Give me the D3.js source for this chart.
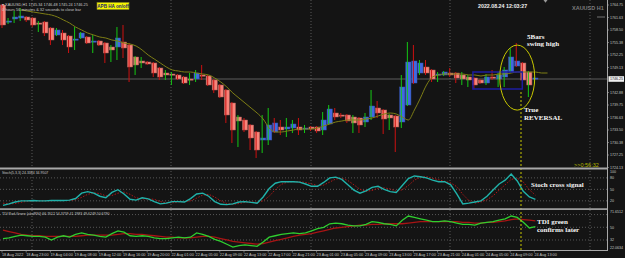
<!DOCTYPE html>
<html>
<head>
<meta charset="utf-8">
<script src="https://cdn.jsdelivr.net/npm/d3@7"></script>
<style>
  body { margin: 0; background: #141414; }
  svg text { font-family: "Liberation Sans", Arial, sans-serif; }
  svg text.note { font-family: "Liberation Serif", "Times New Roman", serif; }
</style>
</head>
<body>
<svg id="chart" width="625" height="258"></svg>
<script>
// XAUUSD H1 - heikin ashi + stoch + TDI

// heikin ashi open / close, bar high / low, real candle direction (wick colour)
const haOpen = [1764.75,1760.5,1761.25,1761.5,1761.75,1761.5,1760.25,1760.5,1759,1757.25,
  1757.75,1757,1756,1756.5,1756.75,1755.5,1755.75,1755.25,1754.25,1754.25,
  1755.5,1754.75,1751.75,1750.75,1750.5,1750.25,1749,1747.75,1747.5,1747.25,
  1746.75,1746.25,1746.25,1747.25,1747,1746,1744.75,1743.5,1740.25,1736.75,
  1736,1734.75,1733,1731,1731,1733,1734.25,1733.75,1734,1734.25,
  1733.75,1734.25,1734.25,1733.5,1735,1737.75,1737.25,1737.25,1736.75,1736.5,
  1735.5,1736.75,1739,1738.5,1737.25,1737,1735.5,1739.75,1745.25,1747.75,
  1749.25,1748.5,1747.25,1747.25,1747.75,1747.75,1747.25,1746.75,1746.5,1746,
  1745.25,1746.75,1746.25,1746.75,1748,1749.5,1750.25,1748,1746.25];
const haClose = [1759.75,1760.75,1761.75,1762,1761,1759.75,1760,1757.75,1756,1758.5,
  1756,1754.25,1756.25,1757.75,1755.25,1755.75,1754.75,1752.75,1753.5,1756.5,
  1754,1749.25,1749.75,1750.25,1750,1747.75,1746.75,1747.25,1747.25,1746.25,
  1745.25,1746,1747.75,1747,1744.75,1743.5,1741.75,1737.25,1733.5,1735.75,
  1733.5,1731.5,1728.5,1731.5,1734.75,1735.25,1733.5,1734.25,1735,1733.5,
  1734,1733.75,1733.25,1736,1738.75,1736.75,1737,1735.75,1735.25,1734.75,
  1736.75,1739.5,1737.75,1736.25,1736.5,1734.25,1744.25,1750.5,1750.75,1750.25,
  1747.75,1746.25,1747.5,1748,1747.25,1746.5,1746.25,1746,1744.75,1745.25,
  1746.75,1746.5,1747.25,1748.5,1751.75,1750.75,1746,1744.75,1746.5];
const barHigh = [1765,1761.5,1763.25,1764,1762,1761.75,1760.75,1760.75,1759.25,1759,
  1758.5,1757.25,1759.25,1758,1757,1757.25,1756,1755.5,1754.75,1759.25,
  1759.75,1755.25,1752,1751.75,1750.75,1750.5,1749.25,1748.5,1748,1747.5,
  1747,1747.75,1748.5,1749.75,1747.25,1746.25,1745,1743.75,1740.5,1737.25,
  1736.5,1735,1733.25,1737.25,1739,1736.5,1736,1736.5,1736,1736.5,
  1734.75,1734.5,1734.5,1738,1739.75,1739,1737.75,1737.5,1737.25,1736.75,
  1737.75,1743.5,1740.75,1738.75,1737.5,1737.25,1747.25,1755.5,1754.75,1751,
  1751,1748.75,1748,1748.25,1749,1748,1748,1747.25,1746.75,1746.25,
  1747.5,1748.5,1748,1749.25,1754,1755.25,1750.5,1748.25,1746.75];
const barLow = [1759,1760,1760.25,1760.75,1760.5,1759.25,1758,1757,1754.75,1757,
  1754.75,1752.75,1753.5,1756.25,1755,1752.75,1754.5,1750.25,1750.5,1751,
  1751.5,1745.5,1747.25,1749,1749.75,1746.75,1746,1746,1744.75,1746,
  1745,1744.75,1745.5,1746,1744.5,1742.75,1741.5,1735.25,1730.25,1729.25,
  1733,1728.5,1726.5,1727.75,1729.75,1732.75,1732.25,1731.75,1732.75,1732.25,
  1732.75,1733.25,1732.75,1732.25,1734.75,1736,1736.5,1735.25,1732.75,1732.75,
  1734.25,1736,1736.5,1732.5,1733.5,1728,1734,1739.5,1745,1747.25,
  1747.25,1745.5,1745.5,1747,1746.75,1745.25,1744.75,1744.25,1743.75,1745,
  1744.75,1746,1744.25,1744.25,1747.75,1749.25,1745.75,1741.75,1745];
const realUp = [0,1,1,1,0,0,1,0,0,1, 0,0,1,1,0,1,0,0,1,1, 0,0,1,1,0,0,0,1,1,0,
  0,1,1,0,0,0,0,0,0,1, 0,0,0,1,1,0,0,1,1,0, 1,0,0,1,1,0,0,0,1,0,
  1,1,0,0,1,0,1,1,0,1, 0,0,1,1,0,0,1,1,0,0, 1,0,1,1,1,0,0,1,1];

// moving average (shifted 2 bars forward)
const maValues = [null,null,null,1763.5,1763.25,1763,1762.75,1762.5,1762.25,1761.75,
  1761,1760.25,1759.25,1758.5,1757.75,1757.25,1756.75,1756.5,1756,1755.75,
  1755.25,1755,1754.5,1753.5,1752.25,1751.25,1750.25,1749.25,1748.5,1748.25,
  1748,1748,1747.75,1747.5,1747.25,1746.5,1745.5,1744.25,1742.75,1741.5,
  1740.25,1739,1737.75,1736.25,1734,1733,1733,1733.25,1733.5,1733.75,
  1733.75,1733.75,1734,1734.5,1735,1735.5,1735.75,1736,1736,1736,
  1736.25,1736.5,1737,1737.5,1737.75,1737.5,1736.75,1736,1738.5,1741.5,
  1744.75,1746.75,1747.25,1747.5,1747.5,1747.5,1747.5,1747.25,1747.25,1747,
  1747.25,1747.25,1747.5,1747.5,1747.75,1748,1748,1748,1748,1747.75,
  1747.75];

// stochastic
const stochMain = [8,12,17,20,20,21,20,20,21,21, 21,22,26,40,44,40,32,28,42,49,
  38,24,22,28,25,18,12,14,18,18, 17,26,38,40,32,18,11,10,12,17,
  18,16,14,30,52,66,70,70,70,69, 64,58,58,68,80,82,76,62,48,40,
  46,55,58,50,44,42,60,78,85,83, 80,74,70,70,62,38,12,14,17,20,
  32,48,64,74,90,72,45,30,24];
const stochSignal = [14,12,13,16,19,20,20,20,20,21, 21,21,23,29,37,41,39,33,34,40,
  43,37,28,25,25,24,18,15,15,17, 18,20,27,35,37,30,20,13,11,13,
  16,17,16,20,32,49,63,69,70,70, 68,64,60,61,69,77,79,73,62,50,
  45,47,53,54,51,45,49,60,74,82, 83,79,75,71,67,57,37,21,14,17,
  23,33,48,62,76,79,69,49,35];

// TDI
const tdiGreen = [34,35,37,39,38,37,37,36,32,36, 38,36,40,42,40,39,37,36,41,45,
  43,38,37,38,37,35,34,34,35,36, 35,36,42,40,37,33,30,26,22,24,
  25,24,23,29,36,38,40,41,42,41, 42,45,48,50,55,56,55,53,52,52,
  54,58,57,55,54,52,60,66,64,62, 60,58,58,59,58,56,54,54,53,56,
  57,58,60,62,66,64,57,49,51];
const tdiRed = [46,44,42,40,39,38,38,37,37,37, 37,37,37,38,39,39,39,39,39,40,
  41,41,40,40,39,38,37,36,36,35, 35,35,36,37,37,36,34,32,30,29,
  28,27,26,27,29,31,33,35,37,39, 40,41,43,45,47,49,50,51,52,53,
  53,54,54,55,55,55,55,56,57,58, 58,58,58,58,58,58,57,57,56,56,
  57,57,58,59,61,62,61,60,59];

// axis labels
const timeLabels = ["18 Aug 2022","18 Aug 23:00","19 Aug 04:00","19 Aug 08:00","19 Aug 12:00",
  "19 Aug 16:00","19 Aug 20:00","22 Aug 01:00","22 Aug 05:00","22 Aug 09:00","22 Aug 13:00",
  "22 Aug 17:00","22 Aug 21:00","23 Aug 01:00","23 Aug 05:00","23 Aug 09:00","23 Aug 13:00",
  "23 Aug 17:00","23 Aug 21:00","24 Aug 01:00","24 Aug 05:00","24 Aug 09:00","24 Aug 13:00"];
const priceTicks = [1764.75,1761.63,1758.50,1755.38,1752.25,1749.13,1742.88,1739.75,
  1736.63,1733.50,1730.38,1727.25,1724.13];
const currentPrice = 1746.25;
const stochLevels = [80, 50, 20];
const stochTicks = [100, 80, 50, 20];
const tdiLevels = [68, 50, 32];
const tdiTicks = ["71.6512", 50, 32, "22.0634"];

// layout
const plotRight = 607;
const svg = d3.select('#chart');

const x = d3.scaleLinear().domain([0, 100]).range([3, 608]);
const yPrice = d3.scaleLinear().domain([1724, 1766]).range([168, 0]);
const yStoch = d3.scaleLinear().domain([0, 100]).range([208.5, 170.2]);
const yTdi = d3.scaleLinear().domain([17.8, 74.5]).range([250, 210]);

svg.append('rect').attr('width', 625).attr('height', 258).attr('fill', '#141414');

// clip paths for panels
const defs = svg.append('defs');
[['clipMain', 0, 0, 168], ['clipStoch', 0, 170, 38], ['clipTdi', 0, 210, 40]].forEach(c => {
    defs.append('clipPath').attr('id', c[0])
        .append('rect').attr('x', c[1]).attr('y', c[2]).attr('width', plotRight).attr('height', c[3]);
});

// vertical grid (dotted)
[32, 171, 311, 450, 590].forEach(gx => {
    svg.append('line').attr('x1', gx).attr('x2', gx).attr('y1', 0).attr('y2', 250)
        .attr('stroke', '#6a6a6a').attr('stroke-width', 0.8).attr('stroke-dasharray', '1,2');
});

// stoch / tdi level lines
stochLevels.forEach(v => {
    svg.append('line').attr('x1', 0).attr('x2', plotRight).attr('y1', yStoch(v)).attr('y2', yStoch(v))
        .attr('stroke', '#6a6a6a').attr('stroke-width', 0.8).attr('stroke-dasharray', '1,2');
});
tdiLevels.forEach(v => {
    svg.append('line').attr('x1', 0).attr('x2', plotRight).attr('y1', yTdi(v)).attr('y2', yTdi(v))
        .attr('stroke', '#6a6a6a').attr('stroke-width', 0.8).attr('stroke-dasharray', '1,2');
});

// current price line
svg.append('line').attr('x1', 0).attr('x2', plotRight)
    .attr('y1', yPrice(currentPrice)).attr('y2', yPrice(currentPrice))
    .attr('stroke', '#6e6e6e').attr('stroke-width', 0.8);

// candles
const main = svg.append('g').attr('clip-path', 'url(#clipMain)');
const bars = d3.range(haOpen.length);

main.selectAll('rect.body')
    .data(bars)
    .enter()
    .append('rect')
    .attr('class', 'body')
    .attr('x', i => x(i) - 2.6)
    .attr('width', 5.2)
    .attr('y', i => yPrice(Math.max(haOpen[i], haClose[i])))
    .attr('height', i => Math.max(1.2, Math.abs(yPrice(haOpen[i]) - yPrice(haClose[i]))))
    .attr('fill', i => haClose[i] >= haOpen[i] ? '#4169e1' : '#f7847a')
    .attr('stroke', i => haClose[i] >= haOpen[i] ? '#3552b0' : '#a65a54')
    .attr('stroke-width', 0.5);

main.selectAll('line.wick')
    .data(bars)
    .enter()
    .append('line')
    .attr('class', 'wick')
    .attr('x1', i => x(i) - 1)
    .attr('x2', i => x(i) - 1)
    .attr('y1', i => yPrice(barHigh[i]))
    .attr('y2', i => yPrice(barLow[i]))
    .attr('stroke', i => realUp[i] ? '#14c814' : '#cc1010')
    .attr('stroke-width', 1);

// moving average
main.append('path')
    .datum(maValues)
    .attr('fill', 'none')
    .attr('stroke', '#7e7e14')
    .attr('stroke-width', 1)
    .attr('d', d3.line().defined(d => d !== null).x((d, i) => x(i)).y(d => yPrice(d)).curve(d3.curveMonotoneX));

// swing-high box and ellipse
main.append('rect')
    .attr('x', x(78) - 2).attr('y', yPrice(1748))
    .attr('width', x(86) - x(78) + 1).attr('height', yPrice(1743.75) - yPrice(1748))
    .attr('fill', 'none').attr('stroke', '#1c1ca0').attr('stroke-width', 1.5);

main.append('ellipse')
    .attr('cx', x(85)).attr('cy', yPrice(1746.6))
    .attr('rx', 17.5).attr('ry', 32.5)
    .attr('fill', 'none').attr('stroke', '#c8c800').attr('stroke-width', 1);

// stochastic panel
const stochG = svg.append('g').attr('clip-path', 'url(#clipStoch)');
stochG.append('path').datum(stochSignal)
    .attr('fill', 'none').attr('stroke', '#b01818').attr('stroke-width', 1)
    .attr('stroke-dasharray', '1.5,1.5')
    .attr('d', d3.line().x((d, i) => x(i)).y(d => yStoch(d)));
stochG.append('path').datum(stochMain)
    .attr('fill', 'none').attr('stroke', '#20b2aa').attr('stroke-width', 1.4)
    .attr('d', d3.line().x((d, i) => x(i)).y(d => yStoch(d)));

// TDI panel
const tdiG = svg.append('g').attr('clip-path', 'url(#clipTdi)');
tdiG.append('path').datum(tdiRed)
    .attr('fill', 'none').attr('stroke', '#a81414').attr('stroke-width', 1.3)
    .attr('d', d3.line().x((d, i) => x(i)).y(d => yTdi(d)));
tdiG.append('path').datum(tdiGreen)
    .attr('fill', 'none').attr('stroke', '#2fce2f').attr('stroke-width', 1.3)
    .attr('d', d3.line().x((d, i) => x(i)).y(d => yTdi(d)));

// yellow dashed marker line
svg.append('line').attr('x1', 521).attr('x2', 521).attr('y1', 92).attr('y2', 250)
    .attr('stroke', '#c8c800').attr('stroke-width', 1).attr('stroke-dasharray', '2,2');

// panel separators and borders
svg.append('rect').attr('x', 0).attr('y', 167.5).attr('width', plotRight).attr('height', 2).attr('fill', '#a8a8a8');
svg.append('rect').attr('x', 0).attr('y', 208.3).attr('width', plotRight).attr('height', 1.6).attr('fill', '#a8a8a8');
svg.append('line').attr('x1', 0).attr('x2', plotRight + 0.5).attr('y1', 250.5).attr('y2', 250.5)
    .attr('stroke', '#a8a8a8').attr('stroke-width', 1);
svg.append('line').attr('x1', plotRight + 0.5).attr('x2', plotRight + 0.5).attr('y1', 0).attr('y2', 251)
    .attr('stroke', '#a8a8a8').attr('stroke-width', 1);

// price axis
svg.selectAll('text.price')
    .data(priceTicks)
    .enter()
    .append('text')
    .attr('x', 610)
    .attr('y', d => yPrice(d) + 1.3)
    .attr('font-size', 3.6)
    .attr('fill', '#c4c4c4')
    .text(d => d.toFixed(2));
svg.selectAll('line.ptick')
    .data(priceTicks)
    .enter()
    .append('line')
    .attr('x1', plotRight).attr('x2', 609)
    .attr('y1', d => yPrice(d)).attr('y2', d => yPrice(d))
    .attr('stroke', '#a8a8a8').attr('stroke-width', 0.6);

svg.append('rect').attr('x', 608.5).attr('y', yPrice(currentPrice) - 2.8)
    .attr('width', 15.5).attr('height', 5.6).attr('fill', '#f0f0f0');
svg.append('text').attr('x', 610).attr('y', yPrice(currentPrice) + 1.3)
    .attr('font-size', 3.6).attr('fill', '#141414').text(currentPrice.toFixed(2));

// stoch / tdi axis labels
svg.selectAll('text.st')
    .data(stochTicks)
    .enter()
    .append('text')
    .attr('x', 610)
    .attr('y', d => Math.max(yStoch(d), 172) + 1.3)
    .attr('font-size', 3.6).attr('fill', '#c4c4c4')
    .text(d => d);
const tdiTickY = [212, yTdi(50), yTdi(32), 247.5];
svg.selectAll('text.td')
    .data(tdiTicks)
    .enter()
    .append('text')
    .attr('x', 610)
    .attr('y', (d, i) => tdiTickY[i] + 1.3)
    .attr('font-size', 3.6).attr('fill', '#c4c4c4')
    .text(d => d);

// time axis
svg.selectAll('text.time')
    .data(timeLabels)
    .enter()
    .append('text')
    .attr('x', (d, k) => x(k * 4) - 1)
    .attr('y', 255.5)
    .attr('font-size', 3.8)
    .attr('fill', '#c4c4c4')
    .text(d => d);
svg.selectAll('line.ttick')
    .data(timeLabels)
    .enter()
    .append('line')
    .attr('x1', (d, k) => x(k * 4) - 1).attr('x2', (d, k) => x(k * 4) - 1)
    .attr('y1', 250.5).attr('y2', 252.5)
    .attr('stroke', '#a8a8a8').attr('stroke-width', 0.6);

// header texts
svg.append('text').attr('x', 2).attr('y', 5.5).attr('font-size', 3.9).attr('fill', '#c8c8c8')
    .text('\u25BE XAUUSD,H1  1745.34 1746.48 1745.24 1746.25');
svg.append('text').attr('x', 2).attr('y', 10.5).attr('font-size', 3.9).attr('fill', '#c8c8c8')
    .text('0 hours 56 minutes & 32 seconds to close bar');

svg.append('rect').attr('x', 97).attr('y', 2.5).attr('width', 32).attr('height', 7)
    .attr('fill', '#f5f500').attr('stroke', '#8a8a20').attr('stroke-width', 0.6);
svg.append('text').attr('x', 113).attr('y', 7.7).attr('text-anchor', 'middle')
    .attr('font-size', 4.6).attr('font-weight', 'bold').attr('fill', '#1c1c70')
    .text('APB HA on/off');

svg.append('text').attr('x', 478).attr('y', 7.8).attr('font-size', 5.3).attr('font-weight', 'bold')
    .attr('fill', '#f0f0f0').text('2022.08.24 12:03:27');
svg.append('text').attr('x', 572).attr('y', 10).attr('font-size', 5.5).attr('font-weight', 'bold')
    .attr('fill', '#7c7c7c').text('XAUUSD H1');
svg.append('line').attr('x1', 597).attr('x2', 605).attr('y1', 17).attr('y2', 17)
    .attr('stroke', '#8a8a8a').attr('stroke-width', 0.8);
svg.append('path').attr('d', 'M543.5,0 L547.5,0 L545.5,2.8 Z').attr('fill', '#9a9a9a');

svg.append('text').attr('x', 574).attr('y', 166.5).attr('font-size', 5.5)
    .attr('fill', '#b4b400').text('>>0:56:32');

// panel titles
svg.append('text').attr('x', 2).attr('y', 173.6).attr('font-size', 3.5).attr('fill', '#c8c8c8')
    .text('Stoch(5,3,3) 24.3384 34.9507');
svg.append('text').attr('x', 2).attr('y', 214.5).attr('font-size', 3.5).attr('fill', '#c8c8c8')
    .text('TDI Red Green (ahzlRSI) 66.7612 54.3759 41.1983 49.6249 50.6790');

// annotations
const notes = [
    ['5Bars', 527, 38.5], ['swing high', 527, 46],
    ['True', 524, 112], ['REVERSAL', 524, 120],
    ['Stoch cross signal', 531, 187],
    ['TDI green', 537, 224], ['confirms later', 537, 232]
];
svg.selectAll('text.note')
    .data(notes)
    .enter()
    .append('text')
    .attr('class', 'note')
    .attr('x', d => d[1])
    .attr('y', d => d[2])
    .attr('font-weight', 'bold')
    .attr('font-size', 7)
    .attr('fill', '#f4f4f4')
    .text(d => d[0]);
</script>
</body>
</html>
